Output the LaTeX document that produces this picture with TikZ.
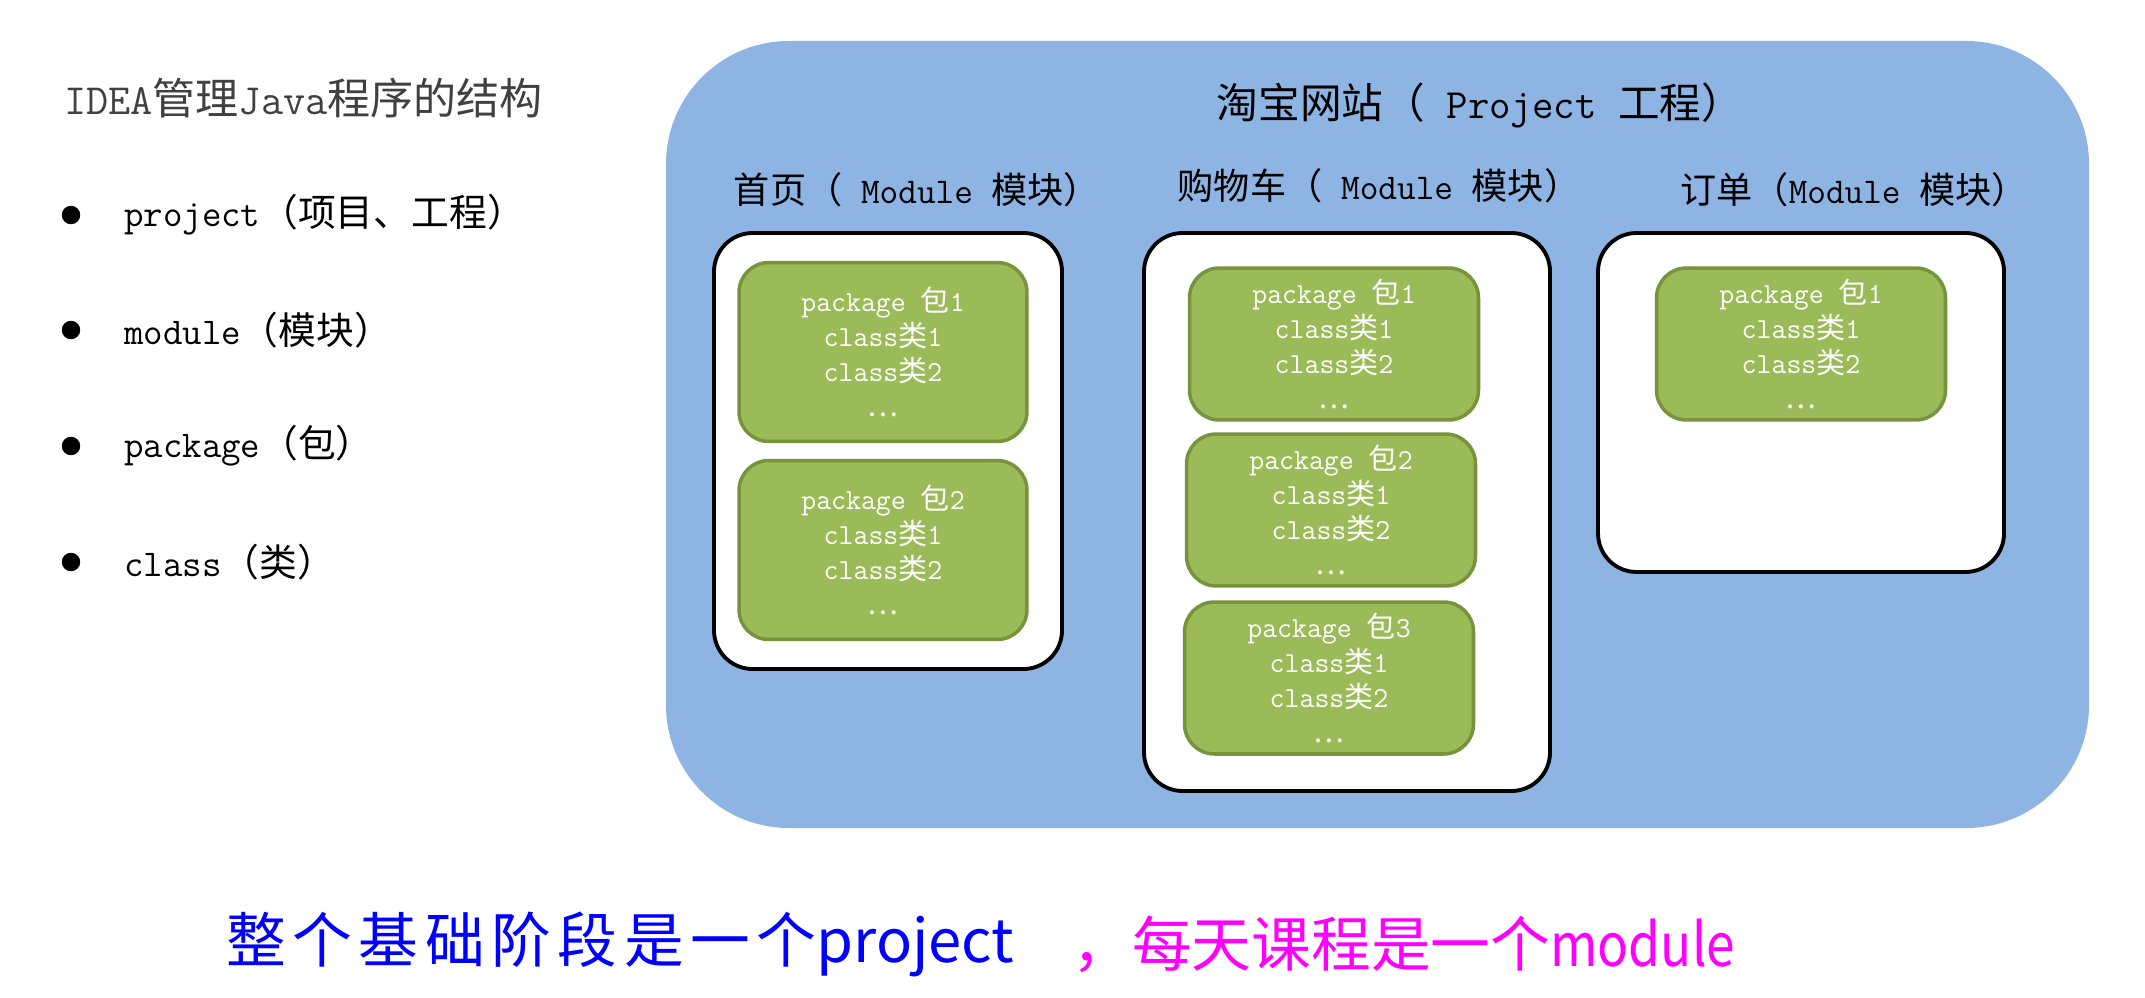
\documentclass[tikz,border=0pt]{standalone}
\usepackage{fontspec}
\newfontfamily\cjk{Noto Sans CJK SC}
\newfontfamily\cjkwide[LetterSpace=11]{Noto Sans CJK SC}
\newfontfamily\cjknarrow[FakeStretch=0.86]{Noto Sans CJK SC}
\newcommand\zh[1]{{\cjk #1}}
\definecolor{projblue}{HTML}{8EB4E3}
\definecolor{pkggreen}{HTML}{9BBB59}
\definecolor{pkgedge}{HTML}{77933C}
\definecolor{notepink}{RGB}{255,0,255}

\begin{document}
\begin{tikzpicture}[x=0.02cm,y=-0.02cm,
  modbox/.style={draw=black,line width=2.2pt,fill=white,rounded corners=22pt},
  pkg/.style={draw=pkgedge,line width=2pt,fill=pkggreen,rounded corners=17pt,
    text=white,align=center,inner sep=0pt,font=\ttfamily\fontsize{16.5}{20}\selectfont},
  item/.style={anchor=west,font=\ttfamily\fontsize{21.5}{25}\selectfont},
  head/.style={font=\ttfamily\fontsize{20.6}{25}\selectfont},
  note/.style={anchor=west,inner sep=0pt,font=\cjk\fontsize{34}{40}\selectfont},
  dot/.style={circle,fill=black,inner sep=0pt,minimum size=10.5pt}]
\useasboundingbox (0,0) rectangle (2145,997);
% left column
\node[anchor=west,text=black!75,font=\ttfamily\fontsize{24.5}{28}\selectfont] (title) at (58,98) {IDEA\zh{管理}Java\zh{程序的结构}};
\node[dot] (b1) at (71,215) {};
\node[dot] (b2) at (71,330) {};
\node[dot] (b3) at (71,446) {};
\node[dot] (b4) at (71,562) {};
\node[item] (i1) at (118,215) {project\zh{（项目、工程）}};
\node[item] (i2) at (118,330) {module\zh{（模块）}};
\node[item] (i3) at (118,446) {package\zh{（包）}};
\node[item] (i4) at (118,562) {class\zh{（类）}};
% project
\fill[projblue,rounded corners=70pt] (666,41) rectangle (2089,828);
\node[head,font=\ttfamily\fontsize{23.7}{28}\selectfont] (proj) at (1480,105) {\zh{淘宝网站（} Project \zh{工程）}};
\node[head] (m1) at (917,190) {\zh{首页（} Module \zh{模块）}};
\node[head] (m2) at (1379,186) {\zh{购物车（} Module \zh{模块）}};
\node[head] (m3) at (1854,190) {\zh{订单（}Module \zh{模块）}};
\filldraw[modbox] (714,233) rectangle (1062,669);
\filldraw[modbox] (1144,233) rectangle (1550,791);
\filldraw[modbox] (1598,233) rectangle (2004,572);
% packages
\node[pkg,minimum width=5.76cm,minimum height=3.58cm] (p11) at (883,352) {package \zh{包}1\\class\zh{类}1\\class\zh{类}2\\\zh{…}};
\node[pkg,minimum width=5.76cm,minimum height=3.58cm] (p12) at (883,550) {package \zh{包}2\\class\zh{类}1\\class\zh{类}2\\\zh{…}};
\node[pkg,minimum width=5.78cm,minimum height=3.04cm] (p21) at (1334,344) {package \zh{包}1\\class\zh{类}1\\class\zh{类}2\\\zh{…}};
\node[pkg,minimum width=5.78cm,minimum height=3.04cm] (p22) at (1331,510) {package \zh{包}2\\class\zh{类}1\\class\zh{类}2\\\zh{…}};
\node[pkg,minimum width=5.78cm,minimum height=3.04cm] (p23) at (1329,678) {package \zh{包}3\\class\zh{类}1\\class\zh{类}2\\\zh{…}};
\node[pkg,minimum width=5.78cm,minimum height=3.04cm] (p31) at (1801,344) {package \zh{包}1\\class\zh{类}1\\class\zh{类}2\\\zh{…}};
% bottom line
\node[note,text=blue] (note1) at (226,944) {{\cjkwide 整个基础阶段是一个}project};
\node[note,text=notepink] (note2) at (1072,944) {，每天课程是一个{\cjknarrow module}};
\end{tikzpicture}
\end{document}
